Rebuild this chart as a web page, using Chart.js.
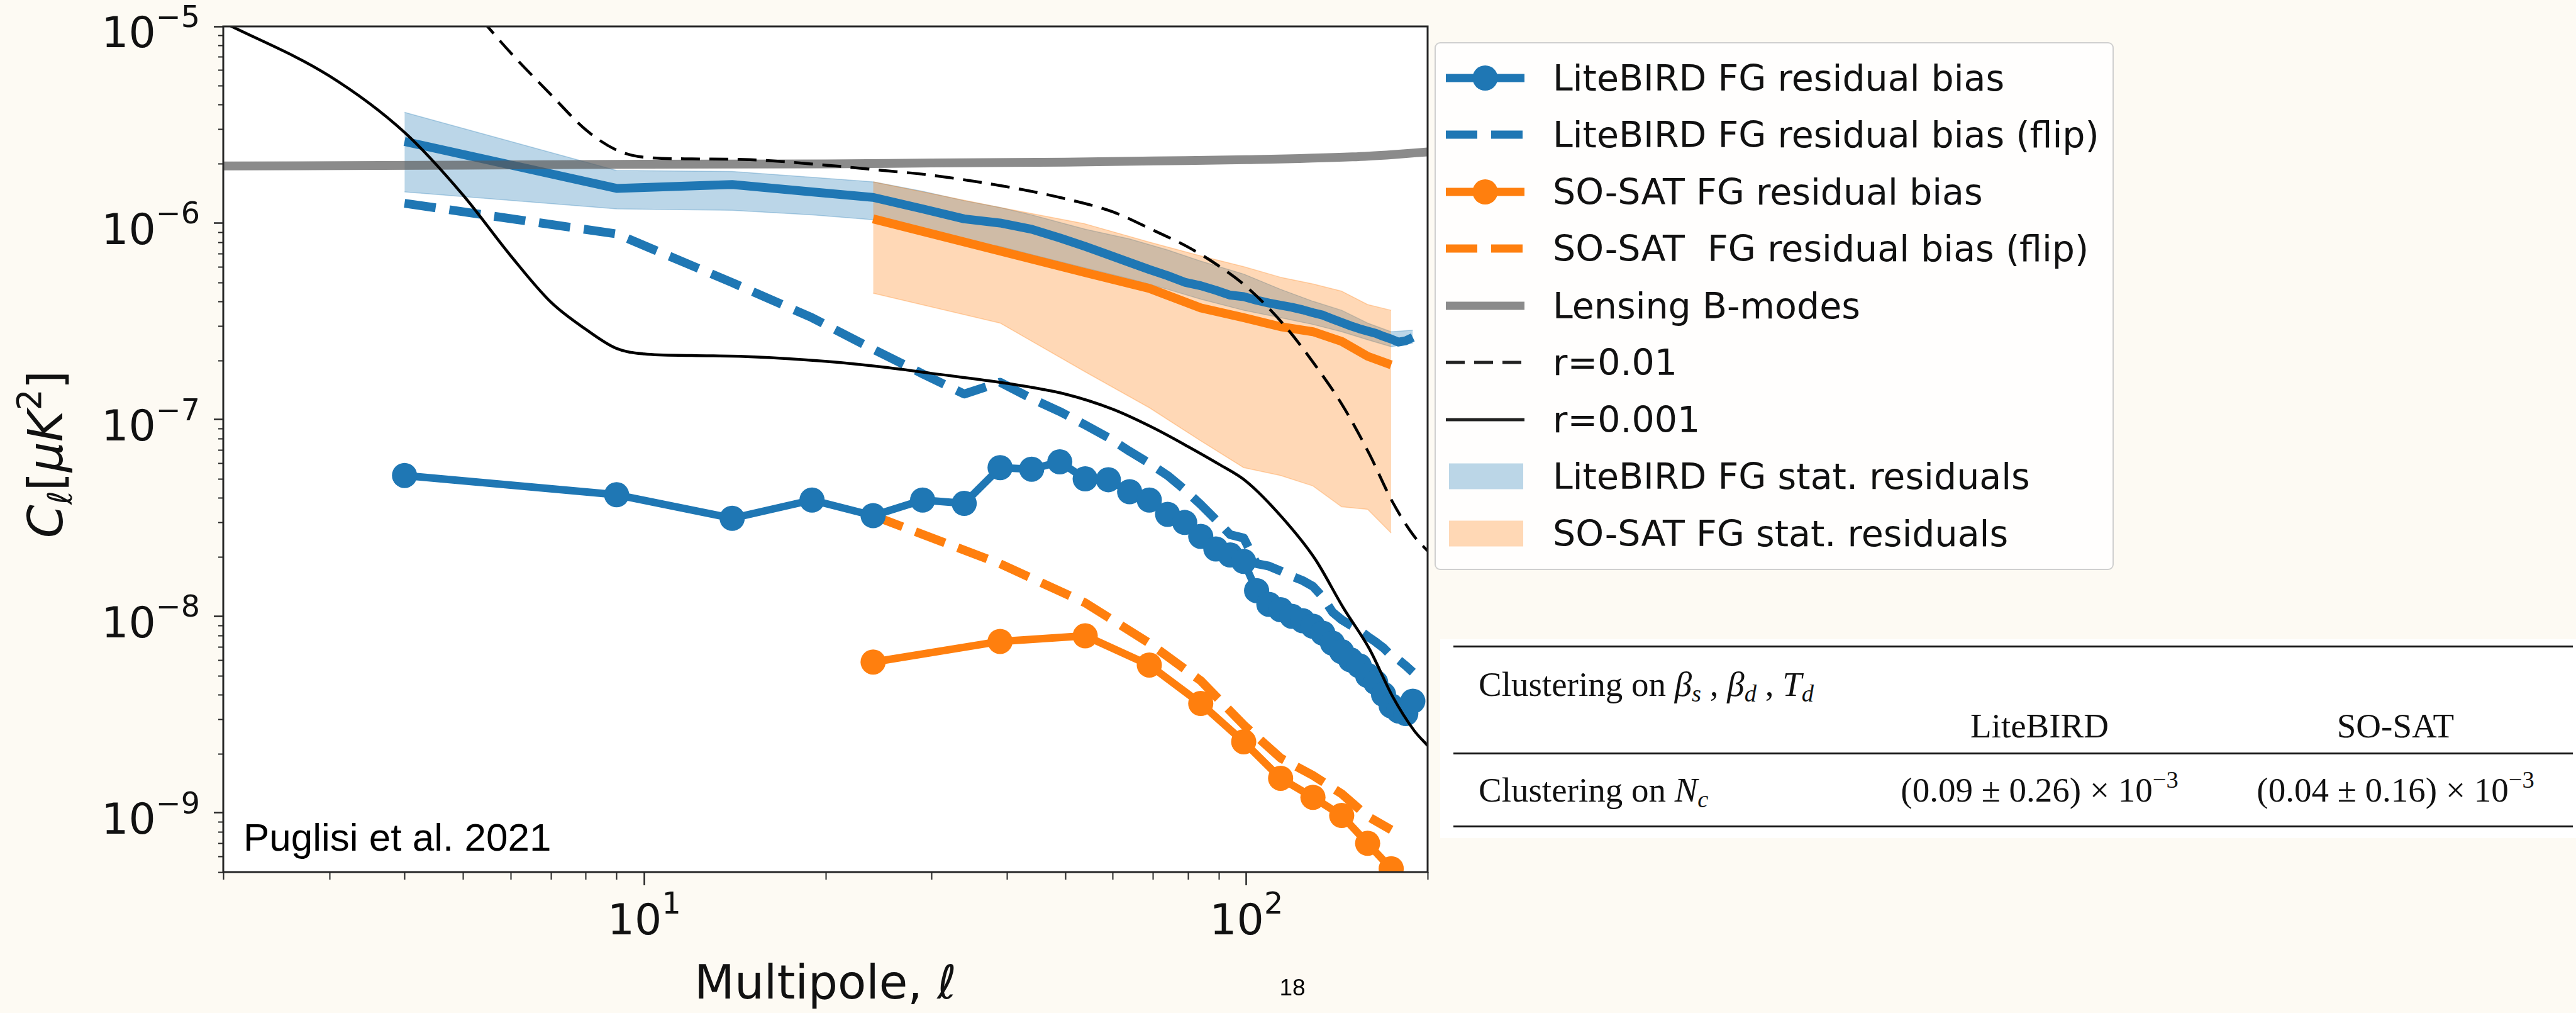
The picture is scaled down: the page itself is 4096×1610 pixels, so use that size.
<!DOCTYPE html>
<html>
<head>
<meta charset="utf-8">
<title>FG residual bias vs multipole</title>
<script src="https://cdn.jsdelivr.net/npm/chart.js@4.4.1/dist/chart.umd.min.js"></script>
<style>
  html, body { margin:0; padding:0; }
  body { width:4096px; height:1610px; overflow:hidden; position:relative; background:#fdfaf3; font-family:"DejaVu Sans", sans-serif; }
  #chartbox { position:absolute; left:0; top:0; width:2300px; height:1610px; }
  #legend { position:absolute; left:2281px; top:67px; width:1080px; height:839px; box-sizing:border-box;
            border:2px solid #cfcfcf; border-radius:9px; background:rgba(255,255,255,0.8); }
  .lrow { position:absolute; left:0; width:100%; height:0; }
  .lrow svg { position:absolute; left:16px; top:-30px; overflow:visible; }
  .lrow span { position:absolute; left:186px; top:0; transform:translateY(-50%); font-size:57px; line-height:1;
               white-space:pre; color:#111; font-family:"DejaVu Sans"; }
  #tbl { position:absolute; left:2290px; top:1016px; width:1806px; height:316px; background:#ffffff; }
  .hr { position:absolute; left:21px; width:1780px; height:3px; background:#111; }
  .tc { position:absolute; transform:translateY(-50%); font-family:"Liberation Serif", serif; font-size:55px;
        line-height:1; white-space:nowrap; color:#111; }
  .ctr { transform:translate(-50%,-50%); }
  .tc sub { font-size:0.7em; vertical-align:-0.25em; line-height:0; }
  .tc sup { font-size:0.7em; vertical-align:0.55em; line-height:0; }
  #note { position:absolute; left:387px; top:1300px; font-family:"Liberation Sans", Arial, sans-serif; font-size:62px;
          line-height:1; color:#000; white-space:nowrap; }
  #page { position:absolute; left:2055px; top:1551px; transform:translateX(-50%); font-family:"Liberation Sans", Arial, sans-serif;
          font-size:37px; line-height:1; color:#000; }
</style>
</head>
<body>
<div id="chartbox"><canvas id="c" width="2300" height="1610" style="width:2300px;height:1610px"></canvas></div>
<div id="note">Puglisi et al. 2021</div>
<div id="legend"></div>
<div id="tbl">
  <div class="hr" style="top:10px"></div>
  <div class="hr" style="top:180px"></div>
  <div class="hr" style="top:296px"></div>
  <div class="tc" style="left:61px;top:71px">Clustering on <i>β</i><sub><i>s</i></sub> , <i>β</i><sub><i>d</i></sub> , <i>T</i><sub><i>d</i></sub></div>
  <div class="tc ctr" style="left:953px;top:137px">LiteBIRD</div>
  <div class="tc ctr" style="left:1519px;top:137px">SO-SAT</div>
  <div class="tc" style="left:61px;top:239px">Clustering on <i>N</i><sub><i>c</i></sub></div>
  <div class="tc ctr" style="left:953px;top:239px">(0.09 ± 0.26) × 10<sup>−3</sup></div>
  <div class="tc ctr" style="left:1519px;top:239px">(0.04 ± 0.16) × 10<sup>−3</sup></div>
</div>
<div id="page">18</div>
<script>
// ---------------- data ----------------
const xTickExponents = [1, 2];
const yTickExponents = [-9, -8, -7, -6, -5];

// LiteBIRD multipole bins
const lbEll = [4, 9, 14, 19, 24, 29, 34, 39, 44, 49, 54, 59, 64, 69, 74, 79, 84, 89, 94, 99,
               104, 109, 114, 119, 124, 129, 134, 139, 144, 149, 154, 159, 164, 169, 174, 179, 184, 189];
const lbBias = [5.2e-8, 4.15e-8, 3.15e-8, 3.9e-8, 3.25e-8, 3.9e-8, 3.75e-8, 5.7e-8, 5.6e-8, 6.1e-8,
                5.0e-8, 4.95e-8, 4.3e-8, 3.9e-8, 3.3e-8, 3.0e-8, 2.55e-8, 2.2e-8, 2.05e-8, 1.9e-8,
                1.35e-8, 1.15e-8, 1.08e-8, 1.0e-8, 9.5e-9, 8.9e-9, 8.2e-9, 7.3e-9, 6.6e-9, 6.0e-9,
                5.6e-9, 5.0e-9, 4.6e-9, 4.0e-9, 3.5e-9, 3.3e-9, 3.2e-9, 3.7e-9];
const lbFlip = [1.26e-6, 8.8e-7, 4.98e-7, 3.3e-7, 2.28e-7, 1.71e-7, 1.35e-7, 1.55e-7, 1.28e-7, 1.1e-7,
                9.4e-8, 8.1e-8, 6.9e-8, 6.0e-8, 5.2e-8, 4.4e-8, 3.7e-8, 3.1e-8, 2.6e-8, 2.5e-8,
                1.85e-8, 1.8e-8, 1.7e-8, 1.6e-8, 1.52e-8, 1.42e-8, 1.25e-8, 1.05e-8, 9.6e-9, 9.0e-9,
                8.5e-9, 7.9e-9, 7.4e-9, 6.9e-9, 6.3e-9, 6.0e-9, 5.6e-9, 5.2e-9];
const lbMean = [2.6e-6, 1.5e-6, 1.57e-6, 1.44e-6, 1.35e-6, 1.18e-6, 1.05e-6, 1.0e-6, 9.3e-7, 8.4e-7,
                7.6e-7, 6.9e-7, 6.3e-7, 5.8e-7, 5.4e-7, 5.0e-7, 4.8e-7, 4.55e-7, 4.3e-7, 4.22e-7,
                4.05e-7, 3.92e-7, 3.82e-7, 3.73e-7, 3.62e-7, 3.5e-7, 3.4e-7, 3.25e-7, 3.12e-7, 3.0e-7,
                2.9e-7, 2.82e-7, 2.75e-7, 2.65e-7, 2.57e-7, 2.48e-7, 2.52e-7, 2.62e-7];
const lbBandEll = [4, 9, 14, 19, 24, 29, 34, 39, 44, 54, 64, 74, 84, 99, 114, 129, 144, 159, 174, 189];
const lbUpper = [3.66e-6, 1.85e-6, 1.83e-6, 1.71e-6, 1.62e-6, 1.45e-6, 1.3e-6, 1.2e-6, 1.1e-6, 9.3e-7,
                 8.3e-7, 7.3e-7, 6.4e-7, 5.5e-7, 4.6e-7, 4.0e-7, 3.6e-7, 3.1e-7, 2.8e-7, 2.85e-7];
const lbLower = [1.44e-6, 1.18e-6, 1.16e-6, 1.1e-6, 1.04e-6, 8.9e-7, 8.1e-7, 7.6e-7, 6.9e-7, 5.9e-7,
                 5.2e-7, 4.6e-7, 4.1e-7, 3.6e-7, 3.3e-7, 3.05e-7, 2.8e-7, 2.55e-7, 2.35e-7, 2.45e-7];

// SO-SAT multipole bins
const soEll = [24, 39, 54, 69, 84, 99, 114, 129, 144, 159, 174];
const soBias = [5.85e-9, 7.45e-9, 7.95e-9, 5.65e-9, 3.6e-9, 2.3e-9, 1.5e-9, 1.2e-9, 9.7e-10, 7.0e-10, 5.2e-10];
const soFlip = [3.25e-8, 1.85e-8, 1.17e-8, 7.3e-9, 4.7e-9, 2.8e-9, 1.9e-9, 1.55e-9, 1.25e-9, 9.6e-10, 8.2e-10];
const soMean = [1.05e-6, 7.2e-7, 5.6e-7, 4.65e-7, 3.7e-7, 3.3e-7, 2.97e-7, 2.8e-7, 2.5e-7, 2.1e-7, 1.9e-7];
const soUpper = [1.62e-6, 1.2e-6, 9.9e-7, 8.0e-7, 6.8e-7, 6.0e-7, 5.3e-7, 4.9e-7, 4.5e-7, 3.85e-7, 3.6e-7];
const soLower = [4.4e-7, 3.1e-7, 1.75e-7, 1.15e-7, 7.8e-8, 5.7e-8, 5.2e-8, 4.6e-8, 3.6e-8, 3.5e-8, 2.65e-8];

// theory curves
const lensEll = [2, 5, 10, 20, 30, 50, 70, 100, 150, 175, 200];
const lensCl = [1.95e-6, 1.97e-6, 1.99e-6, 2.0e-6, 2.02e-6, 2.04e-6, 2.07e-6, 2.1e-6, 2.17e-6, 2.23e-6, 2.3e-6];
const r01Ell = [5, 6, 7, 8, 9, 10, 12, 15, 20, 25, 30, 40, 50, 60, 70, 80, 90, 100, 115, 130, 145, 160, 175, 190, 200];
const r01Cl = [1.4e-5, 7.35e-6, 4.5e-6, 2.98e-6, 2.35e-6, 2.16e-6, 2.12e-6, 2.1e-6, 1.97e-6, 1.85e-6, 1.75e-6,
               1.53e-6, 1.33e-6, 1.14e-6, 9.2e-7, 7.55e-7, 6.05e-7, 4.75e-7, 3.08e-7, 1.9e-7, 1.16e-7,
               6.7e-8, 3.8e-8, 2.55e-8, 2.15e-8];
const r001Ell = [2, 3, 4, 5, 6, 7, 8, 9, 10, 12, 15, 20, 25, 30, 40, 50, 60, 70, 80, 90, 100, 115, 130, 145, 160, 175, 190, 200];
const r001Cl = [1.05e-5, 5.6e-6, 2.89e-6, 1.39e-6, 6.83e-7, 3.96e-7, 2.88e-7, 2.3e-7, 2.16e-7, 2.12e-7, 2.09e-7,
                1.98e-7, 1.85e-7, 1.72e-7, 1.53e-7, 1.35e-7, 1.13e-7, 9.1e-8, 7.3e-8, 5.94e-8, 4.85e-8,
                3.15e-8, 1.96e-8, 1.1e-8, 6.85e-9, 3.9e-9, 2.62e-9, 2.2e-9];

const legendLabels = ['LiteBIRD FG residual bias', 'LiteBIRD FG residual bias (flip)', 'SO-SAT FG residual bias',
  'SO-SAT  FG residual bias (flip)', 'Lensing B-modes', 'r=0.01', 'r=0.001',
  'LiteBIRD FG stat. residuals', 'SO-SAT FG stat. residuals'];

// ---------------- styling ----------------
const BLUE = '#1f77b4', ORANGE = '#ff7f0e';
const BLUE_FILL = 'rgba(31,119,180,0.3)', ORANGE_FILL = 'rgba(255,127,14,0.3)';
const LENS = 'rgba(90,90,90,0.7)';
const LW = 14, MR = 20;
const pts = (xs, ys) => xs.map((x, i) => ({x: x, y: ys[i]}));
const supMap = {'-':'\u207B','0':'\u2070','1':'\u00B9','2':'\u00B2','3':'\u00B3','4':'\u2074','5':'\u2075','6':'\u2076','7':'\u2077','8':'\u2078','9':'\u2079'};
const supStr = n => String(n).split('').map(c => supMap[c]).join('');

const base = {pointRadius:0, pointHoverRadius:0, tension:0, clip:0, borderCapStyle:'butt', borderJoinStyle:'round'};
const datasets = [
  Object.assign({}, base, {label:legendLabels[7], data:pts(lbBandEll, lbUpper), borderColor:BLUE_FILL, borderWidth:1.5,
     backgroundColor:BLUE_FILL, fill:'+1', order:20}),
  Object.assign({}, base, {label:legendLabels[7] + ' (lower)', data:pts(lbBandEll, lbLower), borderColor:BLUE_FILL, borderWidth:1.5,
     fill:false, order:19}),
  Object.assign({}, base, {label:legendLabels[8], data:pts(soEll, soUpper), borderColor:ORANGE_FILL, borderWidth:1.5,
     backgroundColor:ORANGE_FILL, fill:'+1', order:18}),
  Object.assign({}, base, {label:legendLabels[8] + ' (lower)', data:pts(soEll, soLower), borderColor:ORANGE_FILL, borderWidth:1.5,
     fill:false, order:17}),
  Object.assign({}, base, {label:'LiteBIRD mean', data:pts(lbEll, lbMean), borderColor:BLUE, borderWidth:LW, fill:false, order:9}),
  Object.assign({}, base, {label:'SO-SAT mean', data:pts(soEll, soMean), borderColor:ORANGE, borderWidth:LW, fill:false, order:8}),
  Object.assign({}, base, {label:legendLabels[1], data:pts(lbEll, lbFlip), borderColor:BLUE, borderWidth:LW, borderDash:[50,22], fill:false, order:7}),
  Object.assign({}, base, {label:legendLabels[3], data:pts(soEll, soFlip), borderColor:ORANGE, borderWidth:LW, borderDash:[50,22], fill:false, order:6}),
  Object.assign({}, base, {label:legendLabels[0], data:pts(lbEll, lbBias), borderColor:BLUE, borderWidth:12, fill:false, order:5,
     pointRadius:MR, pointHoverRadius:MR, pointBackgroundColor:BLUE, pointBorderWidth:0}),
  Object.assign({}, base, {label:legendLabels[2], data:pts(soEll, soBias), borderColor:ORANGE, borderWidth:12, fill:false, order:4,
     pointRadius:MR, pointHoverRadius:MR, pointBackgroundColor:ORANGE, pointBorderWidth:0}),
  Object.assign({}, base, {label:legendLabels[4], data:pts(lensEll, lensCl), borderColor:LENS, borderWidth:LW, fill:false, order:3,
     cubicInterpolationMode:'monotone'}),
  Object.assign({}, base, {label:legendLabels[5], data:pts(r01Ell, r01Cl), borderColor:'#000', borderWidth:4.5, borderDash:[30,15], fill:false, order:2,
     cubicInterpolationMode:'monotone'}),
  Object.assign({}, base, {label:legendLabels[6], data:pts(r001Ell, r001Cl), borderColor:'#000', borderWidth:4.5, fill:false, order:1,
     cubicInterpolationMode:'monotone'})
];

// ---------------- plugin: white plot area, frame, minor ticks, math tick labels, y title ----------------
const TICKF = 68;
const decor = {
  id:'decor',
  beforeDraw(chart) {
    const {ctx, chartArea:a} = chart;
    ctx.save(); ctx.fillStyle = '#ffffff'; ctx.fillRect(a.left, a.top, a.right - a.left, a.bottom - a.top); ctx.restore();
  },
  afterDraw(chart) {
    const {ctx, chartArea:a, scales} = chart;
    const xs = scales.x, ys = scales.y;
    ctx.save();
    ctx.strokeStyle = '#262626'; ctx.lineWidth = 3;
    ctx.strokeRect(a.left, a.top, a.right - a.left, a.bottom - a.top);
    // minor ticks
    ctx.lineWidth = 2;
    ctx.beginPath();
    for (let p = 0; p <= 2; p++) for (let k = 2; k <= 9; k++) {
      const v = k * Math.pow(10, p);
      if (v < xs.min * 0.999 || v > xs.max * 1.001) continue;
      const px = Math.round(xs.getPixelForValue(v)) + 0.5;
      ctx.moveTo(px, a.bottom); ctx.lineTo(px, a.bottom + 12);
    }
    for (let p = -10; p <= -5; p++) for (let k = 2; k <= 9; k++) {
      const v = k * Math.pow(10, p);
      if (v < ys.min * 0.999 || v > ys.max * 1.001) continue;
      const py = Math.round(ys.getPixelForValue(v)) + 0.5;
      ctx.moveTo(a.left, py); ctx.lineTo(a.left - 8, py);
    }
    ctx.stroke();
    // tick labels 10^n
    ctx.fillStyle = '#111'; ctx.textBaseline = 'alphabetic'; ctx.textAlign = 'left';
    const F = TICKF, Fs = F * 0.7;
    const fontB = F + 'px "DejaVu Sans"', fontS = Fs + 'px "DejaVu Sans"';
    const drawPow = (x0, bl, e) => {
      const ex = String(e).replace('-', '\u2212');
      ctx.font = fontB; ctx.fillText('10', x0, bl);
      const wb = ctx.measureText('10').width;
      ctx.font = fontS; ctx.fillText(ex, x0 + wb, bl - 0.48 * F);
    };
    const powWidth = e => {
      const ex = String(e).replace('-', '\u2212');
      ctx.font = fontB; const wb = ctx.measureText('10').width;
      ctx.font = fontS; return wb + ctx.measureText(ex).width;
    };
    for (const e of yTickExponents) {
      const py = ys.getPixelForValue(Math.pow(10, e));
      const w = powWidth(e);
      drawPow(a.left - 37 - w, py + 0.49 * F, e);
    }
    for (const e of xTickExponents) {
      const px = xs.getPixelForValue(Math.pow(10, e));
      const w = powWidth(e);
      drawPow(px - w / 2, a.bottom + 99, e);
    }
    // y-axis title  C_l [mu K^2]
    const T = 76;
    const parts = [
      {t:'C', f:'oblique ' + T + 'px "DejaVu Sans"', dy:0},
      {t:'\u2113', f:'oblique ' + (T * 0.7) + 'px "DejaVu Sans"', dy:0.2 * T},
      {t:'[', f:T + 'px "DejaVu Sans"', dy:0},
      {t:'\u03BCK', f:'oblique ' + T + 'px "DejaVu Sans"', dy:0},
      {t:'2', f:(T * 0.7) + 'px "DejaVu Sans"', dy:-0.45 * T},
      {t:']', f:T + 'px "DejaVu Sans"', dy:0}
    ];
    let W = 0;
    parts.forEach(p => { ctx.font = p.f; p.w = ctx.measureText(p.t).width; W += p.w; });
    ctx.translate(99, (a.top + a.bottom) / 2 + 8);
    ctx.rotate(-Math.PI / 2);
    let x = -W / 2;
    parts.forEach(p => { ctx.font = p.f; ctx.fillText(p.t, x, p.dy); x += p.w; });
    ctx.restore();
  }
};

const axisGrid = len => ({display:true, drawOnChartArea:false, drawTicks:true, tickLength:len, tickWidth:2.5,
                          tickColor:'#262626', color:'#262626'});

new Chart(document.getElementById('c'), {
  type:'line',
  data:{datasets:datasets},
  options:{
    responsive:false, animation:false, devicePixelRatio:1, events:[],
    layout:{padding:{left:0, right:30, top:42, bottom:0}},
    plugins:{legend:{display:false}, tooltip:{enabled:false}, filler:{propagate:false}},
    scales:{
      x:{type:'logarithmic', min:2, max:200,
         afterBuildTicks:s => { s.ticks = xTickExponents.map(e => ({value:Math.pow(10, e)})); },
         afterFit:s => { s.height = 224; },
         ticks:{display:false, callback:v => '10' + supStr(Math.round(Math.log10(v)))},
         grid:axisGrid(21), border:{display:false},
         title:{display:true, text:'Multipole, \u2113', color:'#111',
                font:{family:'DejaVu Sans', size:74, lineHeight:1.15}, padding:{top:0, bottom:0}}},
      y:{type:'logarithmic', min:5e-10, max:1e-5,
         afterBuildTicks:s => { s.ticks = yTickExponents.map(e => ({value:Math.pow(10, e)})); },
         afterFit:s => { s.width = 355; },
         ticks:{display:false, callback:v => '10' + supStr(Math.round(Math.log10(v)))},
         grid:axisGrid(15), border:{display:false},
         title:{display:false, text:'C\u2113[\u03BCK\u00B2]'}}
    }
  },
  plugins:[decor]
});

// ---------------- HTML legend ----------------
const handles = [
  '<line x1="0" y1="30" x2="125" y2="30" stroke="'+BLUE+'" stroke-width="13"/><circle cx="62.5" cy="30" r="20" fill="'+BLUE+'"/>',
  '<line x1="0" y1="30" x2="125" y2="30" stroke="'+BLUE+'" stroke-width="13" stroke-dasharray="50 22"/>',
  '<line x1="0" y1="30" x2="125" y2="30" stroke="'+ORANGE+'" stroke-width="13"/><circle cx="62.5" cy="30" r="20" fill="'+ORANGE+'"/>',
  '<line x1="0" y1="30" x2="125" y2="30" stroke="'+ORANGE+'" stroke-width="13" stroke-dasharray="50 22"/>',
  '<line x1="0" y1="30" x2="125" y2="30" stroke="'+LENS+'" stroke-width="13"/>',
  '<line x1="0" y1="30" x2="125" y2="30" stroke="#222" stroke-width="5" stroke-dasharray="30 15"/>',
  '<line x1="0" y1="30" x2="125" y2="30" stroke="#222" stroke-width="5"/>',
  '<rect x="5" y="9.5" width="118" height="41" fill="'+BLUE_FILL+'"/>',
  '<rect x="5" y="9.5" width="118" height="41" fill="'+ORANGE_FILL+'"/>'
];
const leg = document.getElementById('legend');
legendLabels.forEach((lab, i) => {
  const row = document.createElement('div');
  row.className = 'lrow';
  row.style.top = (54.5 + i * 90.5) + 'px';
  row.innerHTML = '<svg width="125" height="60" viewBox="0 0 125 60">' + handles[i] + '</svg><span></span>';
  row.querySelector('span').textContent = lab;
  leg.appendChild(row);
});
</script>
</body>
</html>
